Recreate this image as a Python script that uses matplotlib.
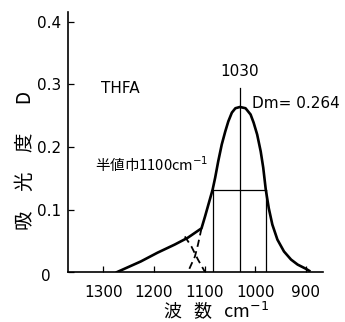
import matplotlib
matplotlib.use("Agg")
from matplotlib import pyplot as plt
from matplotlib.transforms import ScaledTranslation

plt.rcParams["font.family"] = ["DejaVu Sans", "Noto Sans CJK JP"]

# solid envelope (wavenumber cm-1, absorbance)
wn_main = [1273, 1226, 1193, 1159, 1133, 1106, 1099, 1084, 1079, 1073, 1066, 1059,
           1053, 1046, 1039, 1030, 1019, 1009, 1003, 996, 989, 984, 979, 973, 966,
           956, 943, 929, 916, 899, 893]
d_main = [0, 0.017, 0.031, 0.044, 0.055, 0.070, 0.089, 0.132, 0.151, 0.177, 0.204, 0.225,
          0.241, 0.255, 0.262, 0.264, 0.262, 0.252, 0.239, 0.220, 0.193, 0.167, 0.132,
          0.102, 0.076, 0.052, 0.033, 0.020, 0.012, 0.005, 0.002]

# dashed decomposition
wn_shoulder = [1139, 1126, 1113, 1099]
d_shoulder = [0.057, 0.041, 0.020, 0.0]
wn_tail = [1106, 1113, 1119, 1133]
d_tail = [0.070, 0.044, 0.025, 0.0]

peak_wn = 1030
peak_d = 0.264
half_left = 1084
half_right = 979
peak_line_top = 0.295

xticks = [1300, 1200, 1100, 1000, 900]
yticks = [0, 0.1, 0.2, 0.3, 0.4]
ytick_labels = ["0", "0.1", "0.2", "0.3", "0.4"]

fig = plt.figure(figsize=(3.45, 3.22), dpi=100)
ax = fig.add_axes([0.197, 0.155, 0.739, 0.808])

ax.plot(wn_main, d_main, color="black", lw=1.9, solid_joinstyle="round")
ax.plot(wn_shoulder, d_shoulder, color="black", lw=1.3, ls=(0, (4, 2.5)))
ax.plot(wn_tail, d_tail, color="black", lw=1.3, ls=(0, (4, 2.5)))

# half width construction
half = peak_d / 2
ax.plot([peak_wn, peak_wn], [0, peak_line_top], color="black", lw=0.9)
ax.plot([half_left, half_right], [half, half], color="black", lw=0.9)
ax.plot([half_left, half_left], [0, half], color="black", lw=0.9)
ax.plot([half_right, half_right], [0, half], color="black", lw=0.9)

ax.set_xlim(1370, 866)
ax.set_ylim(0, 0.416)
ax.set_xticks(xticks)
ax.set_xticklabels([str(v) for v in xticks], fontsize=11)
ax.set_yticks(yticks)
ax.set_yticklabels(ytick_labels, fontsize=11)
ax.tick_params(direction="in", length=4, width=0.9)
ax.tick_params(axis="x", pad=9)
ax.tick_params(axis="y", pad=5)
ax.spines["top"].set_visible(False)
ax.spines["right"].set_visible(False)
ax.spines["left"].set_linewidth(1.2)
ax.spines["bottom"].set_linewidth(1.2)

# the "0" sits a bit further left and lower in the original
lab0 = ax.get_yticklabels()[0]
lab0.set_transform(lab0.get_transform() + ScaledTranslation(-0.1, -0.03, fig.dpi_scale_trans))

# axis titles placed like the original
fig.text(25 / 345, 1 - 160 / 322, "吸　光　度　  D", rotation=90, fontsize=14,
         ha="center", va="center", family=["Noto Sans CJK JP"])
fig.text(216 / 345, 1 - 310 / 322, "波   数   cm$^{-1}$", fontsize=13,
         ha="center", va="center", family=["Noto Sans CJK JP", "DejaVu Sans"])

ax.text(1305, 0.293, "THFA", fontsize=11, va="center")
ax.text(peak_wn, 0.321, "1030", fontsize=11, ha="center", va="center")
ax.text(1006, 0.27, "Dm= 0.264", fontsize=11, va="center")
ax.text(1317, 0.172, "半値巾1100cm$^{-1}$", fontsize=10.5, va="center",
        family=["Noto Sans CJK JP", "DejaVu Sans"])

fig.savefig("out.png", dpi=100)
